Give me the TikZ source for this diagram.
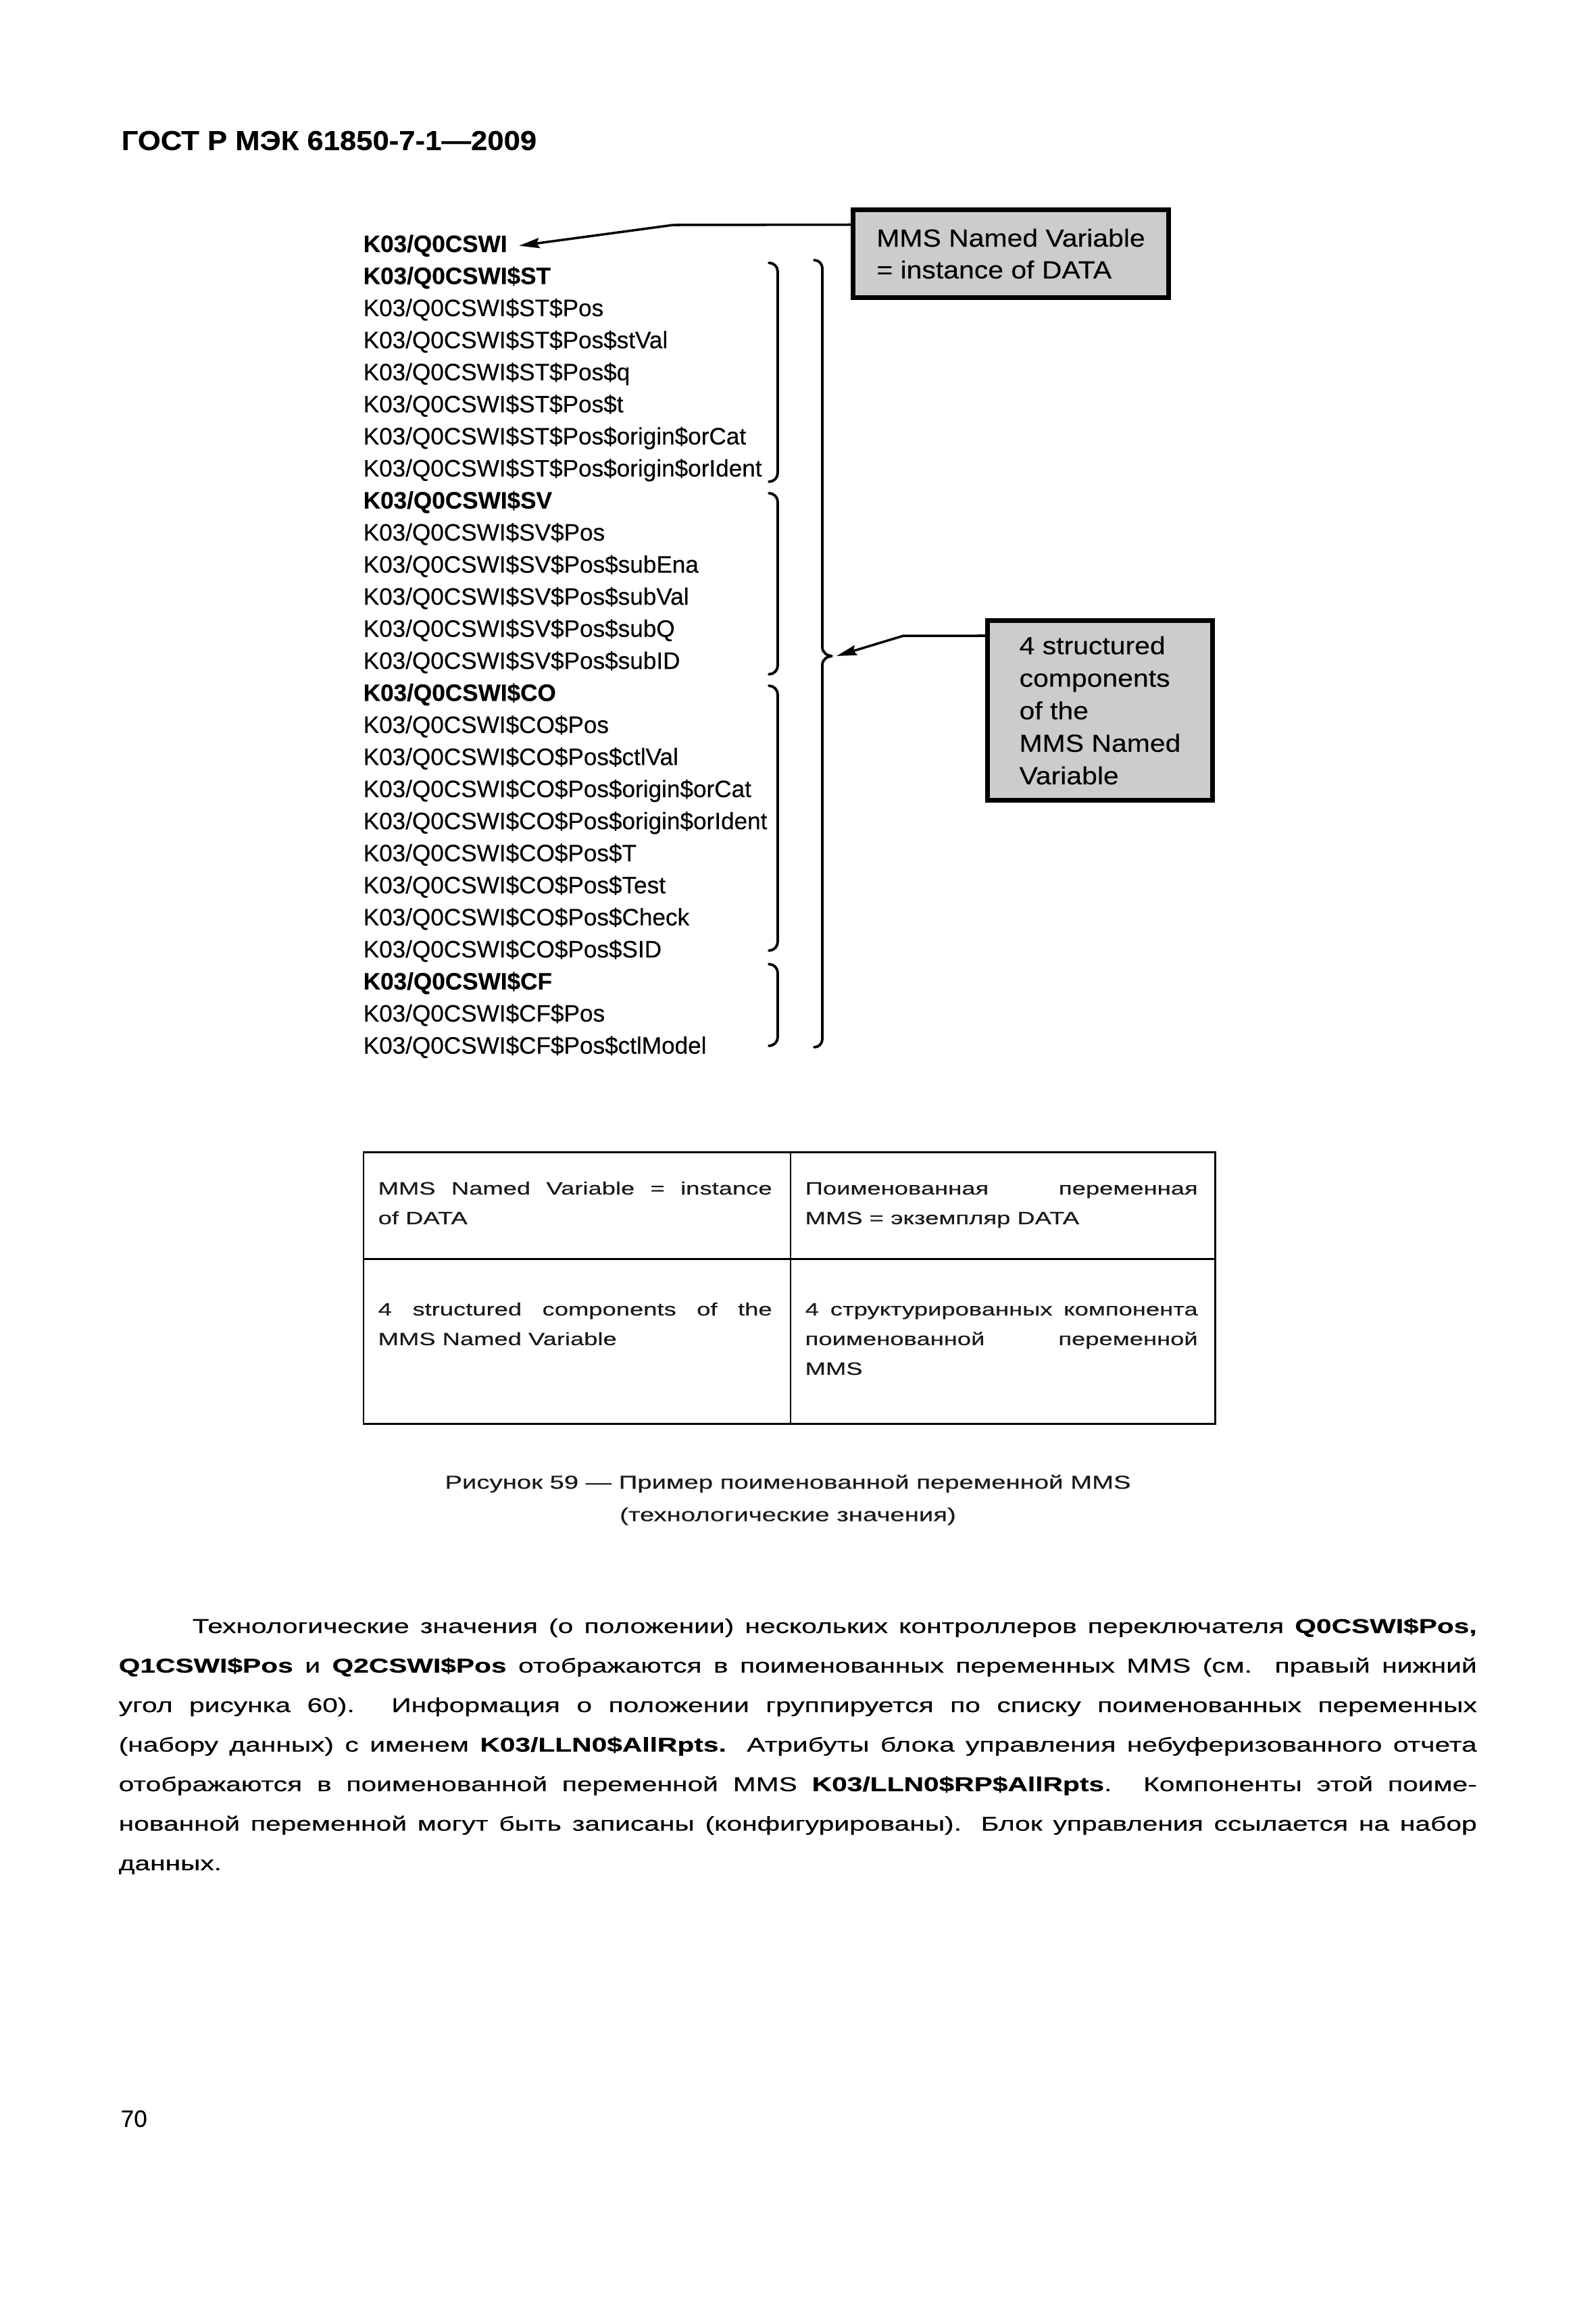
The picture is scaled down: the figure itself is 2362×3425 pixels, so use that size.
\documentclass[tikz,border=0pt]{standalone}
\usepackage{fontspec}
\setmainfont{Liberation Sans}[FakeBold=0.3]
\newfontfamily\headfont[FakeStretch=1.08,FakeBold=0.3]{Liberation Sans}
\newfontfamily\boxfont[FakeStretch=1.12,FakeBold=0.3]{Liberation Sans}
\newfontfamily\tabfont[FakeStretch=1.38,FakeBold=0.5]{Liberation Sans}
\newfontfamily\parafont[FakeStretch=1.38,FakeBold=0.5]{Liberation Sans}
\usetikzlibrary{arrows.meta,calc}
\definecolor{boxgray}{HTML}{CCCCCC}
\tikzset{
  item/.style={anchor=base west, inner sep=0pt, font=\fontsize{10pt}{12pt}\selectfont},
  callout/.style={draw, line width=2pt, fill=boxgray, align=left, inner sep=0pt},
  brace/.style={line width=1.1pt, line cap=round},
  pointer/.style={line width=1pt, -{Stealth[length=3mm,width=1.5mm,inset=0.4mm]}},
  cell/.style={anchor=base west, inner sep=0pt, text=black!90, font=\tabfont\fontsize{7.5pt}{12.5pt}\selectfont},
  tabline/.style={line width=0.85pt},
}
\begin{document}
\begin{tikzpicture}[x=0.1mm, y=-0.1mm]
\fill[white] (0,0) rectangle (2362,3425);
\useasboundingbox (0,0) rectangle (2362,3425);

% header
\node[anchor=base west, inner sep=0pt, font=\headfont\bfseries\fontsize{11.5pt}{14pt}\selectfont] (head) at (179,222) {ГОСТ Р МЭК 61850-7-1—2009};

% list of names
\foreach \t [count=\i from 0] in {
  {\bfseries K03/Q0CSWI},
  {\bfseries K03/Q0CSWI\$ST},
  {K03/Q0CSWI\$ST\$Pos},
  {K03/Q0CSWI\$ST\$Pos\$stVal},
  {K03/Q0CSWI\$ST\$Pos\$q},
  {K03/Q0CSWI\$ST\$Pos\$t},
  {K03/Q0CSWI\$ST\$Pos\$origin\$orCat},
  {K03/Q0CSWI\$ST\$Pos\$origin\$orIdent},
  {\bfseries K03/Q0CSWI\$SV},
  {K03/Q0CSWI\$SV\$Pos},
  {K03/Q0CSWI\$SV\$Pos\$subEna},
  {K03/Q0CSWI\$SV\$Pos\$subVal},
  {K03/Q0CSWI\$SV\$Pos\$subQ},
  {K03/Q0CSWI\$SV\$Pos\$subID},
  {\bfseries K03/Q0CSWI\$CO},
  {K03/Q0CSWI\$CO\$Pos},
  {K03/Q0CSWI\$CO\$Pos\$ctlVal},
  {K03/Q0CSWI\$CO\$Pos\$origin\$orCat},
  {K03/Q0CSWI\$CO\$Pos\$origin\$orIdent},
  {K03/Q0CSWI\$CO\$Pos\$T},
  {K03/Q0CSWI\$CO\$Pos\$Test},
  {K03/Q0CSWI\$CO\$Pos\$Check},
  {K03/Q0CSWI\$CO\$Pos\$SID},
  {\bfseries K03/Q0CSWI\$CF},
  {K03/Q0CSWI\$CF\$Pos},
  {K03/Q0CSWI\$CF\$Pos\$ctlModel}}
  \node[item] (l\i) at (537,{373+47.46*\i}) {\t};

% call-out boxes
\node[callout, minimum width=46.7mm, minimum height=13mm,
      font=\boxfont\fontsize{10.4pt}{13.4pt}\selectfont] (box1) at (1496,375.5)
      {MMS Named Variable\\= instance of DATA};
\node[callout, minimum width=33.3mm, minimum height=26.6mm,
      font=\boxfont\fontsize{10.4pt}{13.7pt}\selectfont] (box2) at (1628,1051.5)
      {4 structured\\components\\of the\\MMS Named\\Variable};

% inner braces
\draw[brace] (1138,389) to[out=0,in=90] (1151,402) -- (1151,700) to[out=-90,in=0] (1138,713);
\draw[brace] (1138,730) to[out=0,in=90] (1151,743) -- (1151,985) to[out=-90,in=0] (1138,998);
\draw[brace] (1138,1015) to[out=0,in=90] (1151,1028) -- (1151,1394) to[out=-90,in=0] (1138,1407);
\draw[brace] (1138,1427) to[out=0,in=90] (1151,1440) -- (1151,1535) to[out=-90,in=0] (1138,1548);
% outer brace
\coordinate (brtip) at (1232,971);
\draw[brace] (1205,385) to[out=0,in=90] (1217,397) -- (1217,958) to[out=-90,in=180] (brtip)
  to[out=180,in=90] (1217,984) -- (1217,1538) to[out=-90,in=0] (1205,1550);

% pointers
\coordinate (k1) at (996,333);
\coordinate (k2) at (1337,941);
\draw[pointer] ([yshift=-2.55mm]box1.north west) -- (k1) -- ([xshift=1.7mm]l0.east);
\draw[pointer] ([yshift=-2.6mm]box2.north west) -- (k2) -- ([xshift=0.6mm]brtip);

% table
\draw[tabline] (538,1705) rectangle (1798,2107);
\draw[tabline] (538,1863) -- (1798,1863);
\draw[line width=0.6pt] (1170,1705) -- (1170,2107);
\node[cell] (c11) at (559,1768) {\vtop{\hbox{\makebox[58.3mm][s]{MMS Named Variable = instance}}\hbox{of DATA}}};
\node[cell] (c12) at (1191,1768) {\vtop{\hbox{\makebox[58.1mm][s]{Поименованная переменная}}\hbox{MMS = экземпляр DATA}}};
\node[cell] (c21) at (559,1947) {\vtop{\hbox{\makebox[58.3mm][s]{4 structured components of the}}\hbox{MMS Named Variable}}};
\node[cell] (c22) at (1191,1947) {\vtop{\hbox{\makebox[58.1mm][s]{4 структурированных компонента}}\hbox{\makebox[58.1mm][s]{поименованной переменной}}\hbox{MMS}}};

% caption
\node[align=center, inner sep=0pt, text=black!90, font=\tabfont\fontsize{7.9pt}{13.66pt}\selectfont] (cap) at (1166,2220)
  {Рисунок 59 — Пример поименованной переменной MMS\\(технологические значения)};

% paragraph
\node[anchor=base west, inner sep=0pt, font=\parafont\fontsize{8.4pt}{16.65pt}\selectfont] (para) at (175,2417) {\vtop{%
\hbox{\makebox[201mm][s]{\hspace*{10.9mm}Технологические значения (о положении) нескольких контроллеров переключателя \textbf{Q0CSWI\$Pos,}}}
\hbox{\makebox[201mm][s]{\textbf{Q1CSWI\$Pos} и \textbf{Q2CSWI\$Pos} отображаются в поименованных переменных MMS (см. правый нижний}}
\hbox{\makebox[201mm][s]{угол рисунка 60). Информация о положении группируется по списку поименованных переменных}}
\hbox{\makebox[201mm][s]{(набору данных) с именем \textbf{K03/LLN0\$AllRpts.} Атрибуты блока управления небуферизованного отчета}}
\hbox{\makebox[201mm][s]{отображаются в поименованной переменной MMS \textbf{K03/LLN0\$RP\$AllRpts}. Компоненты этой поиме-}}
\hbox{\makebox[201mm][s]{нованной переменной могут быть записаны (конфигурированы). Блок управления ссылается на набор}}
\hbox{данных.}}};

% page number
\node[anchor=base west, inner sep=0pt, font=\fontsize{10pt}{12pt}\selectfont] (pg) at (178,3148) {70};
\end{tikzpicture}
\end{document}
